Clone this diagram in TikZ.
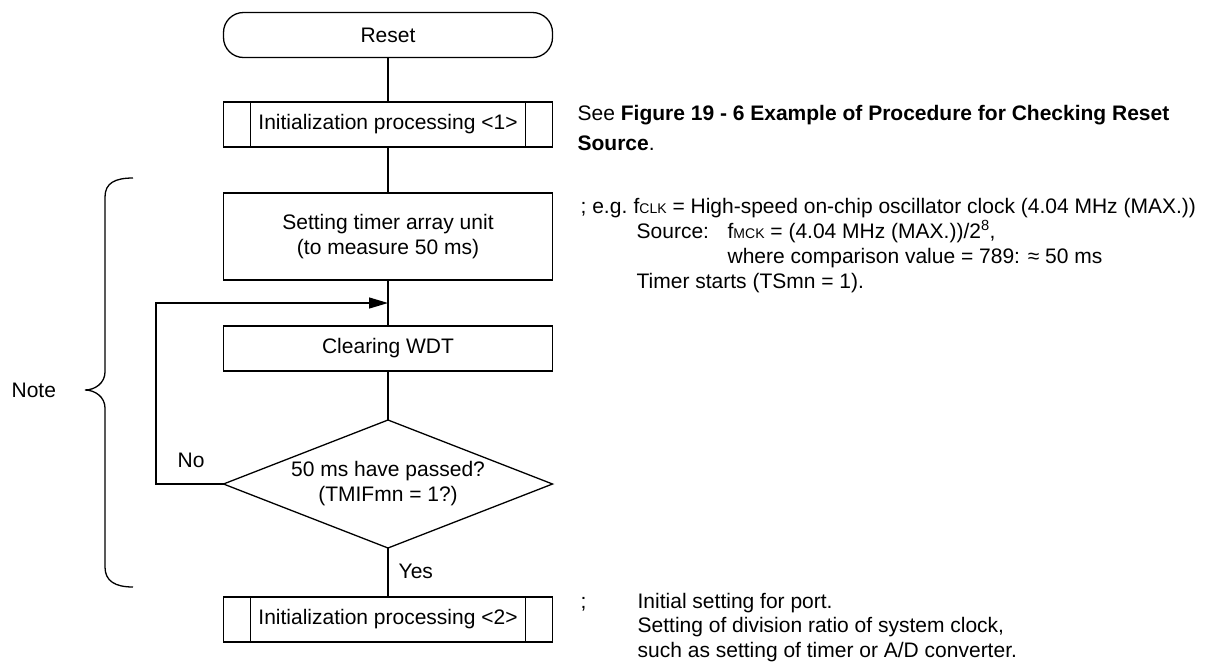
\documentclass[tikz,border=0pt]{standalone}
\usepackage{fontspec}
\setmainfont{Liberation Sans}
\usetikzlibrary{shapes.geometric,arrows.meta}
\newcommand{\subsz}[1]{{\fontsize{14}{14}\selectfont #1}}
\begin{document}
\begin{tikzpicture}[x=1pt,y=-1pt,
  font=\fontsize{21}{25}\selectfont,
  line width=1.3pt,
  proc/.style={draw, rectangle, minimum width=329pt, inner sep=0pt, outer sep=0pt, align=center},
  term/.style={proc, rounded corners=20pt, minimum height=45pt},
  subr/.style={proc, minimum height=45pt},
  decn/.style={draw, diamond, aspect=2.57, minimum width=329pt, minimum height=128pt, inner sep=0pt, outer sep=0pt, align=center},
  txt/.style={inner sep=0pt, anchor=base west},
  arr/.style={-{Triangle[length=19pt,width=11pt]}}
]
\useasboundingbox (0,0) rectangle (1213,665);

% flowchart nodes
\node[term] (reset) at (388,35) {Reset};
\node[subr] (init1) at (388,124.5) {Initialization processing <1>};
\node[proc, minimum height=87pt] (timer) at (388,236.5) {Setting timer array unit\\(to measure 50 ms)};
\node[proc, minimum height=45pt] (wdt) at (388,348.5) {Clearing WDT};
\node[decn] (chk) at (388,484) {50 ms have passed?\\(TMIFmn = 1?)};
\node[subr] (init2) at (388,619.5) {Initialization processing <2>};

\foreach \n in {init1,init2} {
  \draw ([xshift=27pt]\n.north west) -- ([xshift=27pt]\n.south west);
  \draw ([xshift=-27pt]\n.north east) -- ([xshift=-27pt]\n.south east);
}

% connectors
\draw (reset) -- (init1);
\draw (init1) -- (timer);
\draw (timer) -- (wdt);
\draw (wdt) -- (chk);
\draw (chk) -- (init2);
\coordinate (loopc) at (156,303);
\coordinate (join) at (388,303);
\draw[arr] (chk.west) -| (loopc) -- (join);

% labels
\node[txt] (no) at (177,467) {No};
\node[txt] (yes) at (398,578) {Yes};
\node[txt] (note) at (11,397) {Note};

% brace
\draw (133,178) .. controls (115,178) and (105,183) .. (105,197) -- (105,372)
  .. controls (105,383) and (95,390) .. (85,390)
  .. controls (95,390) and (105,397) .. (105,408) -- (105,567)
  .. controls (105,581) and (115,587) .. (133,587);

% right-hand notes
\node[txt] (r1) at (577,120) {See \textbf{Figure 19 - 6 Example of Procedure for Checking Reset}};
\node[txt] (r2) at (577,150) {\textbf{Source}.};
\node[txt] (e1) at (580,213) {; e.g.};
\node[txt] (e1b) at (633,213) {f\subsz{CLK} = High-speed on-chip oscillator clock (4.04 MHz (MAX.))};
\node[txt] (e2) at (636,238) {Source:};
\node[txt] (e2b) at (727,238) {f\subsz{MCK} = (4.04 MHz (MAX.))/2\textsuperscript{8},};
\node[txt] (e3) at (727,263) {where comparison value = 789: ≈ 50 ms};
\node[txt] (e4) at (636,288) {Timer starts (TSmn = 1).};
\node[txt] (b0) at (580,608) {;};
\node[txt] (b1) at (637,608) {Initial setting for port.};
\node[txt] (b2) at (637,632) {Setting of division ratio of system clock,};
\node[txt] (b3) at (637,657) {such as setting of timer or A/D converter.};
\end{tikzpicture}
\end{document}
